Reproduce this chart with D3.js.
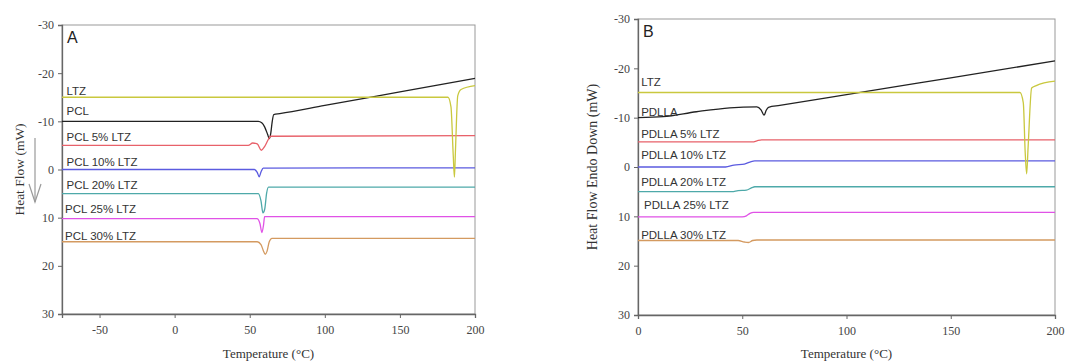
<!DOCTYPE html>
<html>
<head>
<meta charset="utf-8">
<script src="https://cdn.jsdelivr.net/npm/d3@7"></script>
<style>
  body { margin: 0; background: #fff; }
  .tick text { font-family: "Liberation Serif", serif; font-size: 12px; fill: #444; }
  .axis path, .axis line { stroke: #666; }
  .lbl { font-family: "Liberation Sans", Arial, sans-serif; font-size: 11.5px; fill: #333; }
</style>
</head>
<body>
<svg id="chart" width="1065" height="363"></svg>
<script>
// ---- data: [temperature °C, heat flow mW]
const yTicks = [-30, -20, -10, 0, 10, 20, 30];
const xTicksA = [-50, 0, 50, 100, 150, 200];
const xTicksB = [0, 50, 100, 150, 200];

const namesA = ["LTZ", "PCL", "PCL 5% LTZ", "PCL 10% LTZ", "PCL 20% LTZ", "PCL 25% LTZ", "PCL 30% LTZ"];
const namesB = ["LTZ", "PDLLA", "PDLLA 5% LTZ", "PDLLA 10% LTZ", "PDLLA 20% LTZ", "PDLLA 25% LTZ", "PDLLA 30% LTZ"];
const colors = ["#c9c83e", "#222222", "#e8616a", "#5b5be0", "#4ea9a9", "#e052e6", "#d49a60"];

// label anchor (temperature, heat flow)
const labelPosA = [[-72, -15.4], [-72, -11.4], [-72, -5.9], [-72, -0.7], [-72, 4.1], [-73, 9.1], [-73, 14.7]];
const labelPosB = [[1.5, -16.4], [1.5, -10.3], [1.5, -5.9], [1.5, -1.6], [1.5, 3.9], [2.9, 8.5], [1.5, 14.5]];

const ltzA = [[-75, -15], [182, -15], [184, -13], [185.5, -3], [186.3, 1.6], [187, -4], [188.5, -15.3], [190.7, -16.6], [200, -17.4]];
const pclA = [[-75, -10], [55.7, -10], [58, -9.7], [60, -8.8], [62, -7.2], [63, -6.4], [64, -7.5], [65, -10], [66, -11.4], [70, -11.6], [100, -13.3], [150, -16.1], [200, -18.9]];
const pcl5A = [[-75, -5], [49, -5], [52, -5.5], [55, -5.3], [57.7, -4.0], [60, -4.8], [62.5, -6.3], [64, -6.9], [200, -7.05]];
const pcl10A = [[-75, 0], [53, 0], [55, 0.6], [56.3, 1.5], [57.5, 0.5], [59, -0.3], [200, -0.35]];
const pcl20A = [[-75, 5], [55.7, 5], [57.5, 6.5], [58.8, 9.0], [60, 8.2], [61.2, 5.0], [62.5, 3.65], [200, 3.65]];
const pcl25A = [[-75, 10.2], [54.8, 10.2], [56.8, 11.2], [58.1, 13.1], [59.2, 11.5], [59.9, 9.8], [200, 9.8]];
const pcl30A = [[-75, 15], [55, 15], [57.5, 15.6], [59, 16.8], [60.3, 17.6], [61.5, 17], [63, 15], [64.8, 14.3], [200, 14.3]];

const ltzB = [[0, -15.1], [183.2, -15.1], [184.8, -13], [185.7, -3], [186.4, 1.4], [187.1, -4], [188.8, -16], [191, -16.5], [200, -17.4]];
const pdllaB = [[0, -10], [12, -10.2], [28, -11.2], [44, -12.0], [57, -12.2], [59, -11.6], [60.5, -10.5], [61.5, -11.5], [62.6, -12.1], [68, -12.47], [100, -14.66], [150, -18.08], [200, -21.5]];
const pdlla5B = [[0, -5.1], [55, -5.1], [57, -5.3], [59.3, -5.5], [200, -5.5]];
const pdlla10B = [[0, 0], [42, 0], [46, -0.4], [51, -0.6], [53.7, -1.0], [56, -1.25], [200, -1.25]];
const pdlla20B = [[0, 5], [45, 5], [48, 4.8], [52, 4.7], [54.6, 4.2], [56, 4.0], [200, 4.0]];
const pdlla25B = [[0, 10.1], [50, 10.1], [52, 9.9], [53.7, 9.4], [55.5, 9.2], [200, 9.2]];
const pdlla30B = [[0, 14.9], [48, 14.9], [51, 15.2], [53, 15.3], [55, 14.9], [57, 14.8], [200, 14.8]];

const seriesA = [ltzA, pclA, pcl5A, pcl10A, pcl20A, pcl25A, pcl30A];
const seriesB = [ltzB, pdllaB, pdlla5B, pdlla10B, pdlla20B, pdlla25B, pdlla30B];

const svg = d3.select("#chart");

function panel(opt) {
  const x = d3.scaleLinear().domain(opt.xDomain).range([opt.left, opt.right]);
  const y = d3.scaleLinear().domain([-30, 30]).range([opt.top, opt.bottom]);
  const g = svg.append("g");

  // frame
  g.append("rect")
    .attr("x", opt.left).attr("y", opt.top)
    .attr("width", opt.right - opt.left).attr("height", opt.bottom - opt.top)
    .attr("fill", "none").attr("stroke", "#999").attr("stroke-width", 1);

  const fmt = d => String(d);
  g.append("g").attr("class", "axis")
    .attr("transform", `translate(${opt.left},0)`)
    .call(d3.axisLeft(y).tickValues(yTicks).tickSize(4).tickPadding(4).tickFormat(fmt));
  g.append("g").attr("class", "axis")
    .attr("transform", `translate(0,${opt.bottom})`)
    .call(d3.axisBottom(x).tickValues(opt.xTicks).tickSize(4).tickPadding(7).tickFormat(fmt));
  g.selectAll(".axis path").attr("stroke-width", 1.3);

  const line = d3.line()
    .x(d => x(d[0])).y(d => y(d[1]))
    .curve(d3.curveMonotoneX);

  // draw LTZ last so its dip sits over the others
  const order = [1, 2, 3, 4, 5, 6, 0];
  order.forEach(i => {
    g.append("path")
      .attr("d", line(opt.series[i]))
      .attr("fill", "none")
      .attr("stroke", colors[i])
      .attr("stroke-width", 1.3);
  });

  g.selectAll(".lbl")
    .data(opt.names)
    .join("text")
    .attr("class", "lbl")
    .attr("x", (d, i) => x(opt.labels[i][0]))
    .attr("y", (d, i) => y(opt.labels[i][1]))
    .text(d => d);

  g.append("text")
    .attr("x", opt.left + 5).attr("y", opt.top + 18)
    .attr("font-family", "Liberation Sans, Arial, sans-serif")
    .attr("font-size", 16).attr("fill", "#222")
    .text(opt.letter);

  g.append("text")
    .attr("transform", `translate(${opt.titleX},${(opt.top + opt.bottom) / 2}) rotate(-90)`)
    .attr("text-anchor", "middle")
    .attr("font-family", "Liberation Serif, serif")
    .attr("font-size", opt.titleSize).attr("fill", "#333")
    .text(opt.yTitle);

  g.append("text")
    .attr("x", (opt.left + opt.right) / 2).attr("y", 358)
    .attr("text-anchor", "middle")
    .attr("font-family", "Liberation Serif, serif")
    .attr("font-size", 13).attr("fill", "#333")
    .text("Temperature (°C)");
  return g;
}

panel({
  xDomain: [-75, 200], left: 62, right: 475, top: 25, bottom: 314,
  xTicks: xTicksA, series: seriesA, names: namesA, labels: labelPosA,
  letter: "A", yTitle: "Heat Flow (mW)", titleX: 24, titleSize: 13.5
});

// arrow next to the panel A y title
const arrow = svg.append("g").attr("stroke", "#999").attr("stroke-width", 1.2).attr("fill", "none");
arrow.append("line").attr("x1", 35).attr("x2", 35).attr("y1", 138).attr("y2", 202);
arrow.append("path").attr("d", "M29,184 L35,202 L41,184");

panel({
  xDomain: [0, 200], left: 638, right: 1055, top: 19, bottom: 315,
  xTicks: xTicksB, series: seriesB, names: namesB, labels: labelPosB,
  letter: "B", yTitle: "Heat Flow Endo Down (mW)", titleX: 597, titleSize: 14
});
</script>
</body>
</html>
